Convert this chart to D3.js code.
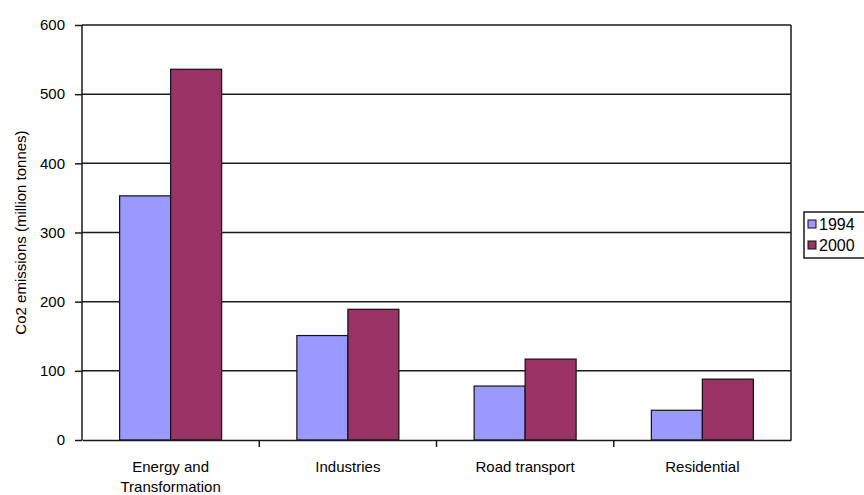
<!DOCTYPE html>
<html>
<head>
<meta charset="utf-8">
<script src="https://cdn.jsdelivr.net/npm/d3@7"></script>
<style>
  body { margin: 0; background: #fff; }
  text { font-family: "Liberation Sans", Arial, sans-serif; fill: #000; }
</style>
</head>
<body>
<script>
// datos del gráfico
const categorias = ["Energy and Transformation", "Industries", "Road transport", "Residential"];
const series = ["1994", "2000"];
const valores1994 = [353, 151, 78, 43];
const valores2000 = [536, 189, 117, 88];
const ticksY = [0, 100, 200, 300, 400, 500, 600];
const colores = ["#9999FF", "#993366"];

const ancho = 864, alto = 495;
const margen = { left: 82, top: 25, right: 73, bottom: 55 };

const svg = d3.select("body").append("svg")
  .attr("width", ancho).attr("height", alto);

const x = d3.scaleBand()
  .domain(categorias)
  .range([margen.left, ancho - margen.right]);

const xSub = d3.scaleBand()
  .domain(series)
  .range([0, 102]);

const y = d3.scaleLinear()
  .domain([0, 600])
  .range([alto - margen.bottom, margen.top]);

// líneas de la grilla
svg.append("g")
  .selectAll("line")
  .data(ticksY.slice(1))
  .join("line")
  .attr("x1", margen.left).attr("x2", ancho - margen.right)
  .attr("y1", d => y(d)).attr("y2", d => y(d))
  .attr("stroke", "#1a1a1a").attr("stroke-width", 1.5);

// borde derecho
svg.append("line")
  .attr("x1", ancho - margen.right).attr("x2", ancho - margen.right)
  .attr("y1", y(600)).attr("y2", y(0))
  .attr("stroke", "#1a1a1a").attr("stroke-width", 1.5);

// barras
const filas = categorias.map((c, i) => ({ cat: c, vals: [valores1994[i], valores2000[i]] }));

const grupos = svg.append("g")
  .selectAll("g")
  .data(filas)
  .join("g")
  .attr("transform", d => `translate(${x(d.cat) + (x.bandwidth() - 102) / 2},0)`);

grupos.selectAll("rect")
  .data(d => d.vals.map((v, j) => ({ serie: series[j], v, j })))
  .join("rect")
  .attr("x", d => xSub(d.serie))
  .attr("width", xSub.bandwidth())
  .attr("y", d => y(d.v))
  .attr("height", d => y(0) - y(d.v))
  .attr("fill", d => colores[d.j])
  .attr("stroke", "#111")
  .attr("stroke-width", 1.2);

// eje Y
const ejeY = svg.append("g")
  .attr("transform", `translate(${margen.left},0)`)
  .call(d3.axisLeft(y).tickValues(ticksY).tickSize(7).tickPadding(10));
ejeY.selectAll("text").style("font-size", "15px");
ejeY.selectAll("line, path").attr("stroke", "#1a1a1a").attr("stroke-width", 1.5);
ejeY.select(".domain").attr("d", `M0,${y(600)}V${y(0)}`);

// eje X
const ejeX = svg.append("g")
  .attr("transform", `translate(0,${y(0)})`)
  .call(d3.axisBottom(x).tickSize(0).tickFormat(""));
ejeX.selectAll("path").attr("stroke", "#1a1a1a").attr("stroke-width", 1.5);

// marcas entre categorías
svg.append("g")
  .selectAll("line")
  .data(categorias.slice(1))
  .join("line")
  .attr("x1", d => x(d)).attr("x2", d => x(d))
  .attr("y1", y(0)).attr("y2", y(0) + 7)
  .attr("stroke", "#1a1a1a").attr("stroke-width", 1.5);

// etiquetas de categorías
const etiquetas = { "Energy and Transformation": ["Energy and", "Transformation"] };
svg.append("g")
  .selectAll("text")
  .data(categorias)
  .join("text")
  .attr("x", d => x(d) + x.bandwidth() / 2)
  .attr("y", y(0) + 32)
  .attr("text-anchor", "middle")
  .style("font-size", "15px")
  .each(function (d) {
    const lineas = etiquetas[d] || [d];
    d3.select(this).selectAll("tspan")
      .data(lineas)
      .join("tspan")
      .attr("x", x(d) + x.bandwidth() / 2)
      .attr("dy", (_, i) => i === 0 ? 0 : 20)
      .text(t => t);
  });

// título eje Y
svg.append("text")
  .attr("transform", `translate(26,${(y(0) + y(600)) / 2}) rotate(-90)`)
  .attr("text-anchor", "middle")
  .style("font-size", "15px")
  .text("Co2 emissions (million tonnes)");

// leyenda
const leyenda = svg.append("g").attr("transform", "translate(804,212)");
leyenda.append("rect")
  .attr("width", 80).attr("height", 46)
  .attr("fill", "#fff").attr("stroke", "#1a1a1a").attr("stroke-width", 1.5);
const items = leyenda.selectAll("g")
  .data(series)
  .join("g")
  .attr("transform", (_, i) => `translate(4,${12 + i * 21})`);
items.append("rect")
  .attr("x", 0).attr("y", -4).attr("width", 8).attr("height", 8)
  .attr("fill", (_, i) => colores[i]).attr("stroke", "#111");
items.append("text")
  .attr("x", 11).attr("y", 0).attr("dy", "0.36em")
  .style("font-size", "16px")
  .text(d => d);
</script>
</body>
</html>
